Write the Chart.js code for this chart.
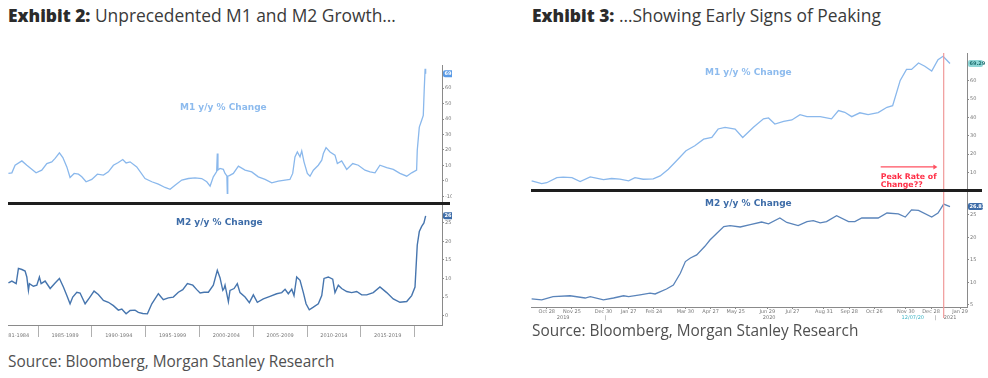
<!DOCTYPE html>
<html>
<head>
<meta charset="utf-8">
<script src="https://cdn.jsdelivr.net/npm/chart.js@4.4.1/dist/chart.umd.min.js"></script>
<style>
body { margin:0; background:#fff; width:988px; height:378px; position:relative; overflow:hidden; font-family:'Open Sans', sans-serif; }
canvas { position:absolute; }
.title { position:absolute; font-size:17.4px; line-height:17px; color:#3a3a3a; white-space:nowrap; }
.title b { font-weight:800; color:#2b2b2b; }
.source { position:absolute; font-size:15.4px; line-height:16px; color:#505050; white-space:nowrap; }
.panel { position:absolute; font:bold 9px 'DejaVu Sans', sans-serif; line-height:10px; white-space:nowrap; }
.rule { position:absolute; background:#1e1e1e; height:3px; }
</style>
</head>
<body>
<div class="title" style="left:8px;top:7px"><b>Exhibit 2:</b> Unprecedented M1 and M2 Growth…</div>
<div class="title" style="left:532px;top:7px"><b>Exhibit 3:</b> …Showing Early Signs of Peaking</div>

<canvas id="m1-long" width="444" height="139" style="left:8px;top:65px"></canvas>
<canvas id="m2-long" width="444" height="139" style="left:8px;top:204px"></canvas>
<canvas id="m1-short" width="457" height="138" style="left:531px;top:53px"></canvas>
<canvas id="m2-short" width="457" height="132" style="left:531px;top:191px"></canvas>

<div class="rule" style="left:8px;top:202px;width:442px"></div>
<div class="rule" style="left:531px;top:189px;width:451px"></div>

<div class="panel" style="left:180px;top:102px;color:#8dbbee">M1 y/y % Change</div>
<div class="panel" style="left:176px;top:217px;color:#3d6ca8">M2 y/y % Change</div>
<div class="panel" style="left:705px;top:67px;color:#8dbbee">M1 y/y % Change</div>
<div class="panel" style="left:705px;top:198px;color:#3d6ca8">M2 y/y % Change</div>

<div class="source" style="left:8px;top:354px">Source: Bloomberg, Morgan Stanley Research</div>
<div class="source" style="left:532px;top:323px">Source: Bloomberg, Morgan Stanley Research</div>

<script>
'use strict';
/*----Exhibit 2 data: [year, % y/y]----*/
var m1Long = [
	[1982.24, 4.8], [1982.56, 5.2], [1982.86, 10.1], [1983.49, 12.9], [1983.95, 10.1],
	[1984.81, 5.2], [1985.34, 6.9], [1985.81, 11.2], [1986.27, 12.3], [1986.58, 14.5],
	[1986.98, 18.1], [1987.30, 15.1], [1987.67, 9.0], [1987.97, 2.2], [1988.35, 4.8],
	[1988.75, 4.3], [1989.06, 2.6], [1989.46, -0.6], [1989.99, 0.9], [1990.51, 4.3],
	[1991.07, 3.7], [1991.53, 5.8], [1992.00, 10.1], [1992.46, 11.9], [1992.87, 13.8],
	[1993.18, 11.6], [1993.55, 12.3], [1994.17, 9.0], [1994.94, 1.5], [1995.57, -0.6],
	[1996.18, -2.1], [1996.80, -4.3], [1997.27, -5.5], [1997.73, -2.8], [1998.36, 0.5],
	[1998.97, 1.5], [1999.59, 1.9], [2000.21, 1.5], [2000.68, -0.6], [2000.99, -3.4],
	[2001.29, 2.6], [2001.60, 6.0], [2001.66, 17.7], [2001.72, 7.0], [2001.91, 8.0],
	[2002.22, 7.4], [2002.38, 4.8], [2002.55, 3.2], [2002.59, -8.1], [2002.63, 3.0],
	[2002.78, 3.4], [2003.15, 4.8], [2003.62, 9.5], [2004.24, 6.9], [2004.86, 5.8],
	[2005.47, 2.6], [2006.10, 0.9], [2006.72, -1.3], [2007.33, -0.2], [2007.95, 0.5],
	[2008.41, 0.9], [2008.67, 4.8], [2008.88, 15.5], [2009.10, 18.7], [2009.35, 15.5],
	[2009.51, 19.4], [2009.72, 12.3], [2010.03, 4.8], [2010.28, 3.0], [2010.59, 6.9],
	[2011.05, 10.1], [2011.37, 13.4], [2011.52, 17.7], [2011.77, 21.5], [2012.14, 18.7],
	[2012.60, 16.6], [2012.82, 11.2], [2013.22, 12.9], [2013.69, 7.4], [2014.25, 11.2],
	[2014.77, 10.1], [2015.39, 6.9], [2015.86, 5.8], [2016.32, 5.2], [2016.78, 10.1],
	[2017.41, 8.6], [2018.02, 7.4], [2018.64, 4.8], [2019.27, 3.0], [2019.73, 5.2],
	[2020.19, 6.9], [2020.25, 19.8], [2020.44, 34.8], [2020.66, 39.2], [2020.81, 42.4],
	[2020.90, 59.6], [2020.98, 72.5], [2021.03, 69.29]
];
var m2Long = [
	[1982.24, 8.8], [1982.56, 9.3], [1982.96, 8.6], [1983.17, 12.7], [1983.49, 12.4],
	[1983.79, 12.0], [1983.95, 10.4], [1984.10, 6.8], [1984.19, 8.6], [1984.56, 7.9],
	[1984.88, 8.2], [1985.12, 10.4], [1985.28, 8.6], [1985.65, 9.3], [1986.12, 7.3],
	[1986.58, 8.8], [1986.98, 10.0], [1987.35, 7.7], [1987.67, 5.4], [1987.97, 3.2],
	[1988.22, 5.0], [1988.60, 6.3], [1988.90, 6.1], [1989.37, 3.2], [1989.77, 4.8],
	[1990.20, 6.6], [1990.60, 5.7], [1991.07, 4.1], [1991.53, 3.6], [1992.00, 2.7],
	[1992.46, 1.5], [1992.78, 1.8], [1993.18, 0.5], [1993.55, 1.4], [1994.01, 1.5],
	[1994.32, 0.9], [1994.73, 0.6], [1995.16, 0.5], [1995.57, 3.2], [1996.18, 5.9],
	[1996.64, 4.3], [1997.11, 4.8], [1997.57, 5.0], [1998.04, 6.3], [1998.45, 7.0],
	[1998.88, 8.6], [1999.38, 8.2], [1999.75, 7.0], [2000.06, 6.1], [2000.43, 6.3],
	[2000.83, 6.3], [2001.29, 8.2], [2001.66, 12.2], [2001.91, 10.2], [2002.17, 6.8],
	[2002.29, 7.3], [2002.38, 8.2], [2002.69, 3.8], [2002.84, 6.8], [2003.22, 7.3],
	[2003.52, 8.6], [2003.77, 6.2], [2004.24, 5.0], [2004.64, 3.5], [2005.01, 5.6],
	[2005.38, 3.6], [2005.94, 4.5], [2006.56, 5.2], [2007.18, 5.9], [2007.65, 6.2],
	[2007.96, 7.1], [2008.26, 5.9], [2008.58, 7.1], [2008.79, 5.4], [2009.04, 10.4],
	[2009.35, 9.5], [2009.66, 6.2], [2009.91, 3.2], [2010.21, 1.6], [2010.59, 2.3],
	[2011.05, 3.2], [2011.37, 5.4], [2011.58, 10.0], [2011.98, 10.4], [2012.39, 9.8],
	[2012.60, 6.2], [2012.91, 8.2], [2013.22, 7.3], [2013.69, 6.5], [2014.15, 6.2],
	[2014.62, 6.5], [2015.08, 5.6], [2015.55, 5.6], [2016.16, 6.2], [2016.78, 7.7],
	[2017.41, 6.2], [2018.02, 4.5], [2018.64, 3.6], [2019.27, 3.8], [2019.73, 5.4],
	[2020.04, 7.7], [2020.25, 19.0], [2020.44, 22.6], [2020.66, 24.0], [2020.87, 24.9],
	[2021.03, 26.83]
];
var longLabelYears = [1983.2, 1987.5, 1992.5, 1997.5, 2002.5, 2007.5, 2012.5, 2017.5];
var longLabels = ['81-1984', '1985-1989', '1990-1994', '1995-1999', '2000-2004', '2005-2009', '2010-2014', '2015-2019'];
var longSeparatorYears = [1985, 1990, 1995, 2000, 2005, 2010, 2015, 2020];
var m1LongTicks = [60, 50, 40, 30, 20, 10, 0, -10];
var m2LongTicks = [25, 20, 15, 10, 5, 0];

/*----Exhibit 3 data: [weeks from Oct 28 2019, % y/y]----*/
var m1Short = [
	[-2.4, 5.5], [-0.8, 4.0], [0, 4.5], [1.6, 7.3], [2.6, 7.5], [4.0, 7.3], [5.3, 5.1],
	[6.9, 7.7], [9.0, 6.2], [10.3, 6.8], [11.6, 6.4], [13.0, 5.5], [14.0, 7.3], [15.3, 6.4],
	[16.9, 6.6], [18.0, 8.2], [19.3, 11.8], [20.6, 16.4], [22.1, 21.9], [23.5, 24.6],
	[24.9, 28.2], [26.2, 29.1], [27.2, 33.7], [28.3, 34.6], [29.9, 33.7], [31.1, 29.1],
	[32.8, 34.6], [34.4, 39.2], [35.2, 39.7], [36.2, 36.4], [37.6, 37.9], [38.9, 38.6],
	[40.2, 41.5], [41.3, 40.4], [43.4, 40.4], [45.2, 39.2], [46.3, 43.7], [47.3, 42.8],
	[48.4, 40.4], [49.7, 42.5], [51.0, 41.5], [52.6, 42.6], [54.0, 45.5], [54.9, 46.4],
	[56.1, 60.1], [57.1, 66.1], [57.9, 66.1], [59.0, 69.6], [60.0, 67.8], [61.1, 65.2],
	[62.1, 71.4], [62.9, 73.2], [64.0, 69.29]
];
var m2Short = [
	[-2.4, 6.3], [-0.8, 6.1], [1.0, 6.8], [3.7, 7.0], [6.1, 6.5], [6.9, 6.8], [9.0, 6.1],
	[10.6, 6.5], [12.2, 7.0], [13.0, 6.8], [14.8, 7.2], [16.4, 7.6], [17.2, 7.4], [19.0, 8.5],
	[20.1, 9.4], [21.2, 12.0], [22.0, 14.6], [22.8, 15.4], [23.8, 16.1], [25.1, 18.0],
	[25.9, 19.4], [27.0, 20.9], [28.1, 22.4], [29.1, 22.6], [30.7, 22.3], [32.3, 22.8],
	[34.1, 23.4], [35.2, 23.0], [37.0, 24.3], [38.1, 23.3], [39.9, 22.6], [41.3, 23.5],
	[42.3, 23.7], [43.4, 23.2], [44.4, 23.5], [46.0, 24.8], [47.9, 23.5], [48.9, 23.5],
	[50.0, 24.3], [52.6, 24.3], [54.0, 25.4], [55.8, 25.2], [56.9, 24.5], [57.9, 26.1],
	[59.0, 26.0], [61.1, 24.5], [62.1, 25.4], [63.0, 27.4], [64.0, 26.83]
];
var shortTickWeeks = [0, 4, 9, 13, 17, 22, 26, 30, 35, 39, 44, 48, 52, 57, 61, 65.6];
var shortTickLabels = ['Oct 28', 'Nov 25', 'Dec 30', 'Jan 27', 'Feb 24', 'Mar 30', 'Apr 27', 'May 25',
	'Jun 29', 'Jul 27', 'Aug 31', 'Sep 28', 'Oct 26', 'Nov 30', 'Dec 28', 'Jan 29'];
var shortYearWeeks = [2.6, 9.3, 35.3, 58.1, 61.7, 64.0];
var shortYearLabels = ['2019', '|', '2020', '12/07/20', '|', '2021'];
var m1ShortTicks = [60, 50, 40, 30, 20, 10];
var m2ShortTicks = [25, 20, 15, 10, 5];
var peakWeek = 63.0;

var M1_COLOR = '#8ab8ec';
var M2_COLOR = '#4675ae';
var AXIS_COLOR = '#8a8a8a';

function points(rows) {
	return rows.map(function(r) { return { x: r[0], y: r[1] }; });
}

/*----last value tag on the right axis----*/
var valueTag = {
	id: 'valueTag',
	afterDraw: function(chart, args, opts) {
		var meta = chart.getDatasetMeta(0);
		var pt = meta.data[meta.data.length - 1];
		var raw = chart.data.datasets[0].data[meta.data.length - 1].y;
		var ctx = chart.ctx;
		var x = chart.chartArea.right + 1, y = pt.y;
		ctx.save();
		ctx.fillStyle = opts.bg;
		ctx.beginPath();
		ctx.roundRect(x, y - 3.5, 15, 7, 2);
		ctx.fill();
		ctx.fillStyle = opts.fg;
		ctx.font = 'bold 5px "DejaVu Sans"';
		ctx.textBaseline = 'middle';
		ctx.fillText(raw.toFixed(2), x + 1.5, y + 0.3);
		ctx.restore();
	}
};

/*----red "peak" marker for exhibit 3----*/
var peakMarker = {
	id: 'peakMarker',
	afterDatasetsDraw: function(chart, args, opts) {
		var ctx = chart.ctx, xs = chart.scales.x, ys = chart.scales.y;
		var x = xs.getPixelForValue(peakWeek);
		ctx.save();
		ctx.strokeStyle = '#f09a9a';
		ctx.lineWidth = 1.2;
		ctx.beginPath();
		ctx.moveTo(x, 0);
		ctx.lineTo(x, chart.chartArea.bottom + (opts.extra || 0));
		ctx.stroke();
		if (opts.note) {
			var ay = ys.getPixelForValue(13.1);
			var x0 = xs.getPixelForValue(53.0), x1 = xs.getPixelForValue(62.0);
			ctx.strokeStyle = '#ff5060';
			ctx.fillStyle = '#ff5060';
			ctx.lineWidth = 1.3;
			ctx.beginPath();
			ctx.moveTo(x0, ay);
			ctx.lineTo(x1 - 3, ay);
			ctx.stroke();
			ctx.beginPath();
			ctx.moveTo(x1, ay);
			ctx.lineTo(x1 - 4, ay - 2.5);
			ctx.lineTo(x1 - 4, ay + 2.5);
			ctx.closePath();
			ctx.fill();
			ctx.fillStyle = '#ff3048';
			ctx.font = 'bold 7.8px "DejaVu Sans"';
			ctx.textBaseline = 'middle';
			ctx.fillText('Peak Rate of', x0, ys.getPixelForValue(7.8));
			ctx.fillText('Change??', x0, ys.getPixelForValue(3.3));
		}
		ctx.restore();
	}
};

function yAxis(min, max, ticks, width) {
	return {
		position: 'right',
		min: min,
		max: max,
		afterBuildTicks: function(s) { s.ticks = ticks.map(function(v) { return { value: v }; }); },
		afterFit: function(s) { s.width = width; s.paddingTop = 0; s.paddingBottom = 0; },
		grid: { drawOnChartArea: false, tickLength: 2, color: AXIS_COLOR },
		border: { color: AXIS_COLOR },
		ticks: { autoSkip: false, padding: 1, color: '#777', font: { size: 5, family: 'DejaVu Sans' } }
	};
}

function hiddenX(min, max) {
	return { type: 'linear', display: false, min: min, max: max };
}

function makeChart(id, rows, color, width, scales, plugins, pluginOpts) {
	return new Chart(document.getElementById(id), {
		type: 'line',
		data: {
			datasets: [{
				data: points(rows),
				borderColor: color,
				borderWidth: width,
				pointRadius: 0,
				tension: 0,
				fill: false
			}]
		},
		options: {
			responsive: false,
			animation: false,
			devicePixelRatio: 1,
			layout: { padding: 0 },
			scales: scales,
			plugins: Object.assign({ legend: { display: false }, tooltip: { enabled: false } }, pluginOpts)
		},
		plugins: plugins
	});
}

/*----Exhibit 2----*/
var longXValues = longLabelYears.concat(longSeparatorYears);
makeChart('m1-long', m1Long, M1_COLOR, 1.3, {
	x: hiddenX(1982.2, 2022.55),
	y: yAxis(-15, 75, m1LongTicks, 10)
}, [valueTag], { valueTag: { bg: '#5b9be6', fg: '#fff' } });

makeChart('m2-long', m2Long, M2_COLOR, 1.4, {
	x: {
		type: 'linear',
		min: 1982.2,
		max: 2022.55,
		afterBuildTicks: function(s) { s.ticks = longXValues.map(function(v) { return { value: v }; }); },
		afterFit: function(s) { s.height = 18; s.paddingLeft = 0; s.paddingRight = 0; },
		grid: {
			drawOnChartArea: false,
			tickLength: 12,
			tickColor: function(c) { return c.index >= longLabelYears.length ? '#b0b0b0' : 'rgba(0,0,0,0)'; }
		},
		border: { color: AXIS_COLOR },
		ticks: {
			autoSkip: false, maxRotation: 0, padding: -4, color: '#777',
			font: { size: 5, family: 'DejaVu Sans' },
			callback: function(v, i) { return i < longLabels.length ? longLabels[i] : ''; }
		}
	},
	y: yAxis(-2.5, 30, m2LongTicks, 10)
}, [valueTag], { valueTag: { bg: '#3d6ca8', fg: '#fff' } });

/*----Exhibit 3----*/
var shortXValues = shortTickWeeks.concat(shortYearWeeks);
makeChart('m1-short', m1Short, M1_COLOR, 1.3, {
	x: hiddenX(-2.5, 66.7),
	y: yAxis(0, 75, m1ShortTicks, 21)
}, [peakMarker, valueTag], { peakMarker: { note: true }, valueTag: { bg: '#8fd6d6', fg: '#1f6f70' } });

makeChart('m2-short', m2Short, '#5a84ba', 1.3, {
	x: {
		type: 'linear',
		min: -2.5,
		max: 66.7,
		afterBuildTicks: function(s) { s.ticks = shortXValues.map(function(v) { return { value: v }; }); },
		afterFit: function(s) { s.height = 16; s.paddingLeft = 0; s.paddingRight = 0; },
		grid: {
			drawOnChartArea: false,
			tickLength: 2,
			tickColor: function(c) { return c.index < shortTickWeeks.length ? AXIS_COLOR : 'rgba(0,0,0,0)'; }
		},
		border: { color: AXIS_COLOR },
		ticks: {
			autoSkip: false, maxRotation: 0, padding: 0,
			color: function(c) { return shortXValues[c.index] === 58.1 ? '#3cb4c4' : '#777'; },
			font: { size: 5, family: 'DejaVu Sans', lineHeight: 1.1 },
			callback: function(v, i) {
				if (i < shortTickLabels.length) return shortTickLabels[i];
				return ['', shortYearLabels[i - shortTickLabels.length]];
			}
		}
	},
	y: yAxis(4.5, 30.3, m2ShortTicks, 21)
}, [peakMarker, valueTag], { peakMarker: { extra: 11 }, valueTag: { bg: '#3d6ca8', fg: '#fff' } });
</script>
</body>
</html>
